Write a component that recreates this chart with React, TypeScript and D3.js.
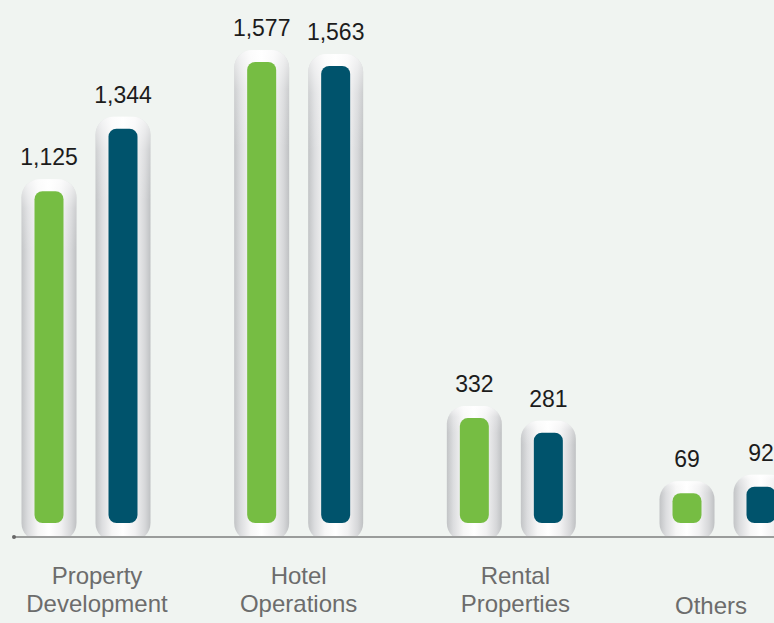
import React from "react";
import * as d3 from "d3";

const categories = ["Property Development", "Hotel Operations", "Rental Properties", "Others"];
const categoryLines = [["Property", "Development"], ["Hotel", "Operations"], ["Rental", "Properties"], ["Others"]];
const seriesKeys = ["prev", "curr"];
const seriesPrev = [1125, 1577, 332, 69];
const seriesCurr = [1344, 1563, 281, 92];
const seriesColors = ["#76bd43", "#00536c"];

const W = 774;
const H = 623;
const axisY = 537;
const innerBottom = 523;

export default function App() {
  const x = d3.scalePoint<string>().domain(categories).range([86, 724]);
  const xi = d3.scalePoint<string>().domain(seriesKeys).range([-37, 37]);
  const y = d3.scaleLinear().domain([0, 1577]).range([innerBottom - 10, 62]);
  const fmt = d3.format(",");
  const values = [seriesPrev, seriesCurr];
  const labelShift = [11, 0, 4, -13];

  const innerW = 29;
  return (
    <svg width={W} height={H} style={{ position: "absolute", left: 0, top: 0, background: "#f0f4f1" }}>
      <defs>
        <linearGradient id="haloH" x1="0" x2="1" y1="0" y2="0">
          <stop offset="0%" stopColor="#c2c4c6" />
          <stop offset="12%" stopColor="#dcdddf" />
          <stop offset="30%" stopColor="#f6f6f6" />
          <stop offset="50%" stopColor="#ffffff" />
          <stop offset="72%" stopColor="#f1f1f2" />
          <stop offset="90%" stopColor="#d6d7d9" />
          <stop offset="100%" stopColor="#bfc1c3" />
        </linearGradient>
        <linearGradient id="haloV" x1="0" x2="0" y1="0" y2="1">
          <stop offset="0%" stopColor="#ffffff" stopOpacity={0.7} />
          <stop offset="8%" stopColor="#ffffff" stopOpacity={0.2} />
          <stop offset="20%" stopColor="#ffffff" stopOpacity={0} />
        </linearGradient>
        <clipPath id="aboveAxis">
          <rect x={0} y={0} width={W} height={axisY} />
        </clipPath>
      </defs>
      <g clipPath="url(#aboveAxis)">
        {categories.map((c, ci) =>
          seriesKeys.map((k, si) => {
            const v = values[si][ci];
            const cx = (x(c) as number) + (xi(k) as number);
            const top = y(v);
            const hTop = top - 12;
            return (
              <g key={c + k}>
                <rect x={cx - 27.5} y={hTop} width={55} height={axisY + 4 - hTop} rx={18} ry={18} fill="url(#haloH)" />
                <rect x={cx - 27.5} y={hTop} width={55} height={axisY + 4 - hTop} rx={18} ry={18} fill="url(#haloV)" />
                <rect x={cx - innerW / 2} y={top} width={innerW} height={innerBottom - top} rx={8} ry={8} fill={seriesColors[si]} />
              </g>
            );
          })
        )}
      </g>
      {categories.map((c, ci) =>
        seriesKeys.map((k, si) => {
          const v = values[si][ci];
          const cx = (x(c) as number) + (xi(k) as number);
          return (
            <text key={"t" + c + k} x={cx} y={y(v) - 26} textAnchor="middle" fontFamily="'Liberation Sans', Arial, sans-serif" fontSize={23} fill="#1c1c1c">
              {fmt(v)}
            </text>
          );
        })
      )}
      <line x1={14} x2={W} y1={axisY} y2={axisY} stroke="#9a9c9b" strokeWidth={2} />
      <circle cx={14} cy={axisY} r={2} fill="#666" />
      {categories.map((c, ci) => {
        const lines = categoryLines[ci];
        const cx = (x(c) as number) + labelShift[ci];
        return (
          <text key={"c" + c} x={cx} textAnchor="middle" fontFamily="'Liberation Sans', Arial, sans-serif" fontSize={24} fill="#6c6c6c">
            {lines.map((l, li) => (
              <tspan key={l} x={cx} y={lines.length === 1 ? 614 : 584 + li * 28}>
                {l}
              </tspan>
            ))}
          </text>
        );
      })}
    </svg>
  );
}
